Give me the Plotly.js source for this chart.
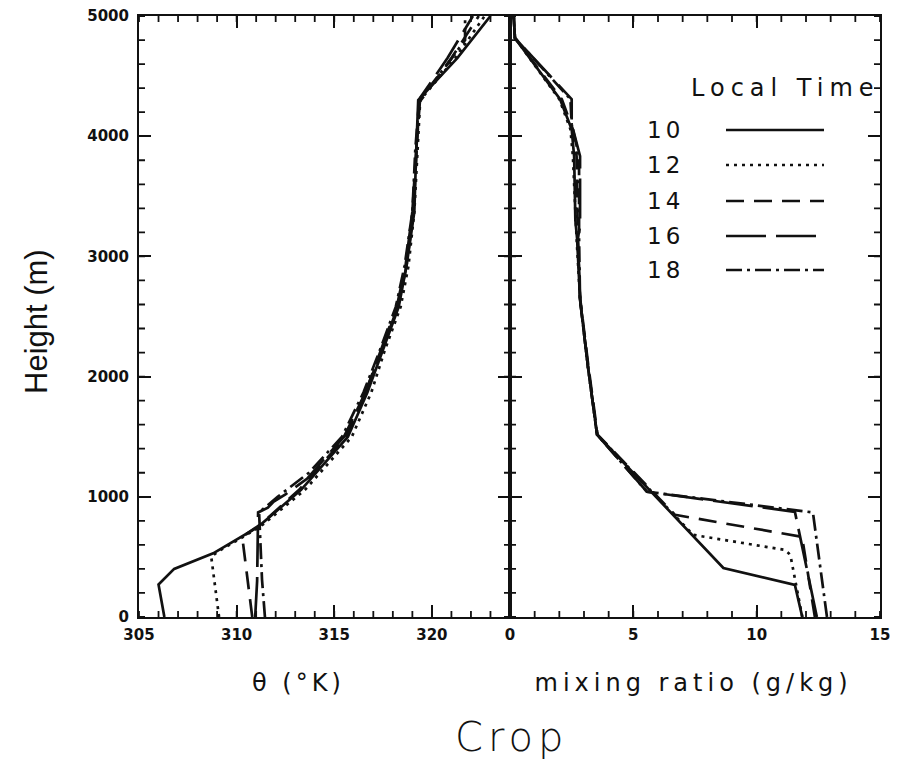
<!DOCTYPE html>
<html>
<head>
<meta charset="utf-8">
<script src="https://cdn.plot.ly/plotly-3.0.1.min.js"></script>
<style>
html,body{margin:0;padding:0;background:#fff;}
#chart{width:899px;height:764px;}
</style>
</head>
<body>
<div id="chart"></div>
<script>
// ---- Data: potential temperature (theta, K) profiles vs height (m) ----
var localTimes = ["10", "12", "14", "16", "18"];

var zTheta10 = [0, 270, 400, 530, 750, 1058, 1500, 1870, 2225, 2580, 2920, 3370, 3890, 4300, 4650, 5000];
var theta10  = [306.3, 306.0, 306.8, 308.8, 311.1, 313.3, 315.7, 316.7, 317.5, 318.3, 318.7, 319.1, 319.2, 319.3, 321.3, 323.0];

var zTheta12 = [0, 500, 540, 750, 1058, 1500, 1870, 2225, 2580, 2920, 3370, 3890, 4300, 4650, 5000];
var theta12  = [309.1, 308.7, 309.0, 311.2, 313.5, 315.9, 316.9, 317.6, 318.4, 318.8, 319.1, 319.25, 319.4, 321.2, 322.7];

var zTheta14 = [0, 650, 690, 780, 1058, 1500, 1870, 2225, 2580, 2920, 3370, 3890, 4280, 4650, 5000];
var theta14  = [310.8, 310.3, 310.5, 311.3, 313.2, 315.6, 316.6, 317.45, 318.25, 318.7, 319.05, 319.2, 319.35, 321.0, 322.4];

var zTheta16 = [0, 300, 870, 910, 960, 1020, 1150, 1500, 1870, 2225, 2580, 2920, 3370, 3890, 4320, 4650, 5000];
var theta16  = [310.95, 311.05, 311.1, 311.6, 311.9, 312.5, 313.6, 315.5, 316.6, 317.4, 318.2, 318.65, 319.0, 319.2, 319.4, 320.8, 322.1];

var zTheta18 = [0, 310, 870, 920, 1000, 1200, 1500, 1870, 2225, 2580, 2920, 3370, 3890, 4300, 4600, 4800, 5000];
var theta18  = [311.45, 311.3, 311.15, 311.5, 312.1, 313.7, 315.4, 316.5, 317.35, 318.15, 318.6, 319.0, 319.15, 319.35, 320.8, 321.7, 321.7];

// ---- Data: mixing ratio (g/kg) profiles vs height (m) ----
var zQ10 = [0, 267, 408, 1517, 2083, 2642, 3150, 3300, 3833, 4058, 4308, 4817, 5000];
var q10  = [11.85, 11.55, 8.65, 3.53, 3.16, 2.84, 2.72, 2.65, 2.6, 2.5, 2.03, 0.2, 0.15];

var zQ12 = [0, 450, 500, 530, 558, 683, 1517, 2083, 2642, 3150, 3833, 4058, 4308, 4817, 5000];
var q12  = [11.85, 11.45, 11.38, 11.3, 11.15, 7.43, 3.53, 3.16, 2.84, 2.7, 2.55, 2.45, 2.0, 0.2, 0.15];

var zQ14 = [0, 667, 850, 1517, 2083, 2642, 3150, 3833, 4058, 4308, 4817, 5000];
var q14  = [12.36, 11.84, 6.69, 3.55, 3.18, 2.85, 2.75, 2.7, 2.55, 2.1, 0.2, 0.15];

var zQ16 = [0, 875, 1042, 1517, 2083, 2642, 3150, 3250, 3833, 4100, 4308, 4817, 5000];
var q16  = [12.44, 11.55, 5.55, 3.53, 3.16, 2.84, 2.75, 2.84, 2.84, 2.5, 2.5, 0.2, 0.15];

var zQ18 = [0, 870, 1042, 1517, 2083, 2642, 3150, 3833, 4100, 4308, 4817, 5000];
var q18  = [12.85, 12.28, 5.55, 3.53, 3.16, 2.84, 2.8, 2.8, 2.5, 2.45, 0.2, 0.15];

// ---- Axis ranges / tick spacing ----
var thetaRange = [305, 324];
var qRange = [0, 15];
var heightRange = [0, 5000];
var thetaMajor = 5, thetaMinor = 1;
var qMajor = 5, qMinor = 1;
var heightMajor = 1000, heightMinor = 200;

// ---- Styles ----
var dashes = ["solid", "3px,5px", "18px,10px", "40px,10px", "16px,5px,3px,5px"];
var LW = 2.7;
var INK = '#111';

var thetaX = [theta10, theta12, theta14, theta16, theta18];
var thetaZ = [zTheta10, zTheta12, zTheta14, zTheta16, zTheta18];
var qX = [q10, q12, q14, q16, q18];
var qZ = [zQ10, zQ12, zQ14, zQ16, zQ18];

var traces = [];
for (var i = 0; i < localTimes.length; i++) {
  traces.push({x: thetaX[i], y: thetaZ[i], xaxis: 'x', yaxis: 'y', mode: 'lines',
    line: {color: INK, width: LW, dash: dashes[i]}, showlegend: false, name: localTimes[i]});
}
for (var j = 0; j < localTimes.length; j++) {
  traces.push({x: qX[j], y: qZ[j], xaxis: 'x2', yaxis: 'y2', mode: 'lines',
    line: {color: INK, width: LW, dash: dashes[j]}, showlegend: false, name: localTimes[j]});
}

var tickFont = {family: 'DejaVu Sans', size: 15, color: INK, weight: 'bold'};
var PLOT_W = 741, PLOT_H = 601;
var split = 371 / PLOT_W;

function xAxis(domain, range, major, anchor) {
  return {
    domain: domain, range: range, tickmode: 'linear', tick0: range[0], dtick: major, anchor: anchor,
    ticks: 'inside', ticklen: 12, tickwidth: 1.8, tickcolor: INK,
    showline: true, linewidth: 2, linecolor: INK, mirror: 'ticks',
    showgrid: false, zeroline: false, tickfont: tickFont, ticklabelstandoff: 3, fixedrange: true
  };
}
function yAxis(anchor, labels) {
  return {
    range: heightRange, tickmode: 'linear', tick0: 0, dtick: heightMajor, anchor: anchor,
    ticks: 'inside', ticklen: 12, tickwidth: 1.8, tickcolor: INK,
    showline: true, linewidth: 2, linecolor: INK, mirror: 'ticks',
    showgrid: false, zeroline: false, tickfont: tickFont, showticklabels: labels,
    ticklabelstandoff: 5, fixedrange: true
  };
}

// ---- minor tick marks (axis decoration), placed through the axes' own data scales ----
var MINOR_LEN = 6;
var shapes = [];
function minorX(xref, range, step) {
  var h = MINOR_LEN / PLOT_H, d = '';
  for (var v = range[0]; v <= range[1] + 1e-9; v += step) {
    d += 'M' + v + ',0V' + h + 'M' + v + ',1V' + (1 - h);
  }
  shapes.push({type: 'path', xref: xref, yref: 'paper', path: d, line: {color: INK, width: 1.8}});
}
function minorY(yref, edges, step) {
  var w = MINOR_LEN / PLOT_W, d = '';
  for (var v = heightRange[0]; v <= heightRange[1] + 1e-9; v += step) {
    edges.forEach(function (e) {
      if (e.dir > 0 || e.both) d += 'M' + e.x + ',' + v + 'H' + (e.x + w);
      if (e.dir < 0 || e.both) d += 'M' + e.x + ',' + v + 'H' + (e.x - w);
    });
  }
  shapes.push({type: 'path', xref: 'paper', yref: yref, path: d, line: {color: INK, width: 1.8}});
}
minorX('x', thetaRange, thetaMinor);
minorX('x2', qRange, qMinor);
minorY('y', [{x: 0, dir: 1}, {x: split, both: true}, {x: 1, dir: -1}], heightMinor);

// legend geometry in paper coordinates
function px2x(px) { return (px - 139) / PLOT_W; }
function py2y(py) { return (617 - py) / PLOT_H; }
var legendRows = [130, 165, 201, 236, 270];

var annotations = [];
for (var k = 0; k < localTimes.length; k++) {
  shapes.push({type: 'line', xref: 'paper', yref: 'paper',
    x0: px2x(726), x1: px2x(824), y0: py2y(legendRows[k]), y1: py2y(legendRows[k]),
    line: {color: INK, width: 2.4, dash: dashes[k]}});
  annotations.push({xref: 'paper', yref: 'paper', x: px2x(665), y: py2y(legendRows[k]),
    text: localTimes[k], showarrow: false, xanchor: 'center', yanchor: 'middle',
    font: {family: 'DejaVu Sans', size: 23, color: INK}});
}
annotations.push({xref: 'paper', yref: 'paper', x: px2x(785), y: py2y(88),
  text: 'Local Time', showarrow: false, xanchor: 'center', yanchor: 'middle',
  font: {family: 'DejaVu Sans', size: 24, color: INK}});
annotations.push({xref: 'paper', yref: 'paper', x: px2x(298), y: py2y(683),
  text: 'θ (°K)', showarrow: false, xanchor: 'center', yanchor: 'middle',
  font: {family: 'DejaVu Sans', size: 24, color: INK}});
annotations.push({xref: 'paper', yref: 'paper', x: px2x(693), y: py2y(683),
  text: 'mixing ratio (g/kg)', showarrow: false, xanchor: 'center', yanchor: 'middle',
  font: {family: 'DejaVu Sans', size: 24, color: INK}});
annotations.push({xref: 'paper', yref: 'paper', x: px2x(511), y: py2y(737),
  text: 'Crop', showarrow: false, xanchor: 'center', yanchor: 'middle',
  font: {family: 'DejaVu Sans', size: 40, color: INK, weight: 300}});
annotations.push({xref: 'paper', yref: 'paper', x: px2x(36), y: py2y(322),
  text: 'Height (m)', showarrow: false, xanchor: 'center', yanchor: 'middle', textangle: -90,
  font: {family: 'Liberation Sans Narrow, Liberation Sans', size: 31, color: INK}});

var y2 = yAxis('x2', false);
y2.matches = 'y';

var layout = {
  width: 899, height: 764,
  margin: {l: 139, r: 19, t: 16, b: 147, pad: 0},
  paper_bgcolor: '#fff', plot_bgcolor: '#fff',
  xaxis: xAxis([0, split], thetaRange, thetaMajor, 'y'),
  xaxis2: xAxis([split, 1], qRange, qMajor, 'y2'),
  yaxis: yAxis('x', true),
  yaxis2: y2,
  shapes: shapes,
  annotations: annotations,
  showlegend: false
};

Plotly.newPlot('chart', traces, layout, {staticPlot: true}).then(function () {
  var spacing = {'Local Time': '6px', 'θ (°K)': '4px', 'mixing ratio (g/kg)': '5px', 'Crop': '5px',
    '10': '4px', '12': '4px', '14': '4px', '16': '4px', '18': '4px'};
  document.querySelectorAll('.annotation-text').forEach(function (t) {
    var s = spacing[t.textContent];
    if (s) t.style.letterSpacing = s;
  });
});
</script>
</body>
</html>
